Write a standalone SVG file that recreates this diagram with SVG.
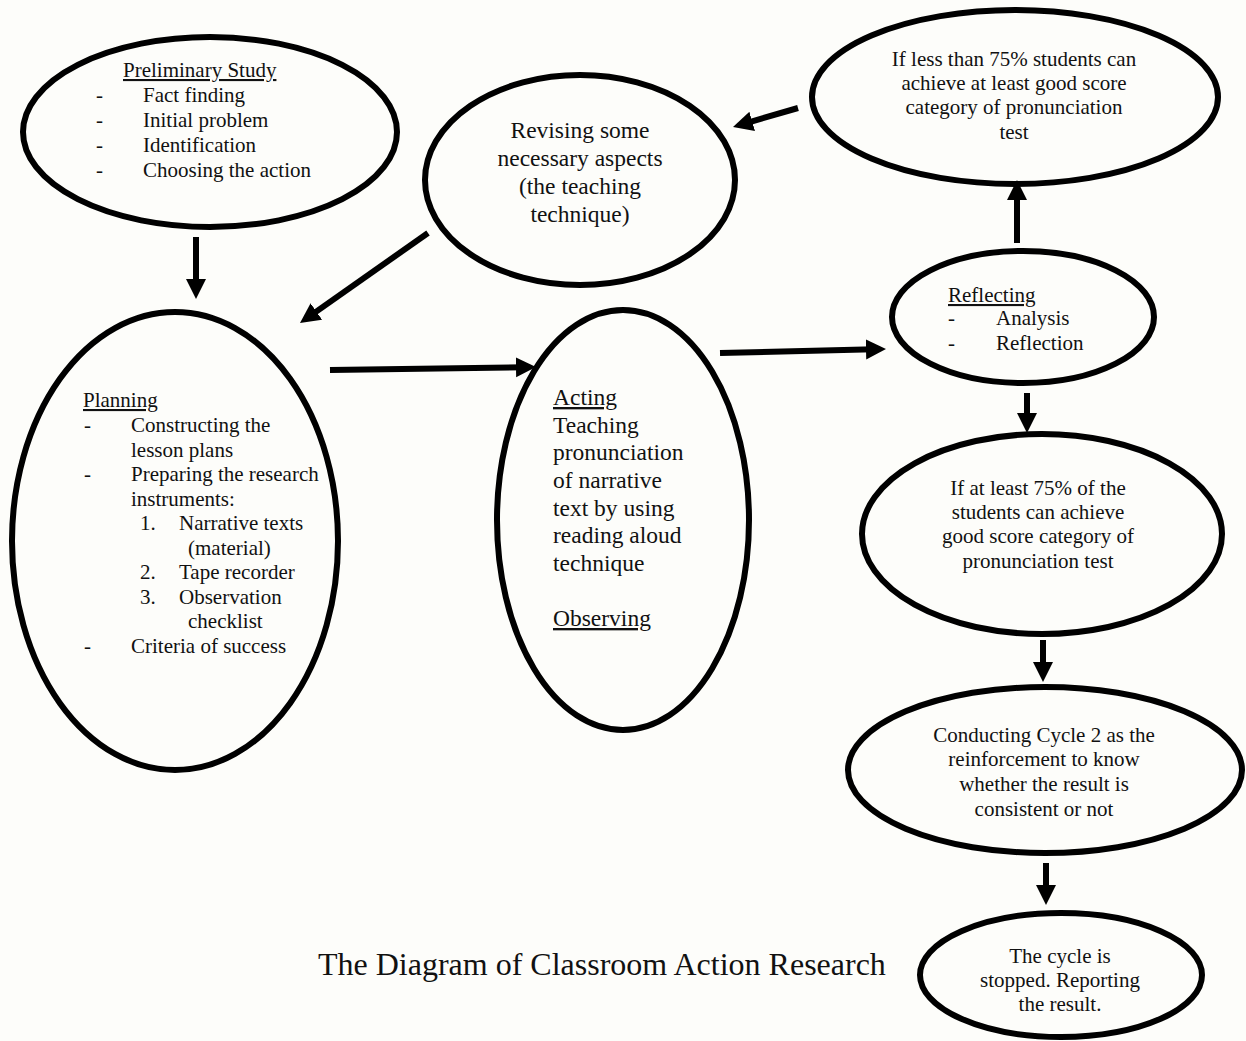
<svg xmlns="http://www.w3.org/2000/svg" width="1246" height="1041" viewBox="0 0 1246 1041">
<defs>
<marker id="ah" markerUnits="userSpaceOnUse" markerWidth="22" markerHeight="22" refX="8" refY="11" orient="auto">
<path d="M0,1 L20,11 L0,21 Z" fill="#000"/>
</marker>
<style>
.node ellipse{fill:none;stroke:#000;stroke-width:6}
text{font-family:"Liberation Serif","Times New Roman",serif;fill:#111}
.t21{font-size:21px}
.t24{font-size:23.5px}
.c{text-anchor:middle}
.u{text-decoration:underline}
#connectors line{stroke:#000;stroke-width:6;marker-end:url(#ah)}
</style>
</defs>
<rect width="1246" height="1041" fill="#fdfdfa"/>

<g id="preliminary" class="node">
<ellipse cx="210" cy="132" rx="187" ry="95"/>
<text class="t21 u" x="123" y="77">Preliminary Study</text>
<text class="t21" x="96" y="102">-</text><text class="t21" x="143" y="102">Fact finding</text>
<text class="t21" x="96" y="127">-</text><text class="t21" x="143" y="127">Initial problem</text>
<text class="t21" x="96" y="152">-</text><text class="t21" x="143" y="152">Identification</text>
<text class="t21" x="96" y="177">-</text><text class="t21" x="143" y="177">Choosing the action</text>
</g>

<g id="revising" class="node">
<ellipse cx="580" cy="180" rx="155" ry="105"/>
<text class="t24 c" x="580" y="138">Revising some</text>
<text class="t24 c" x="580" y="166">necessary aspects</text>
<text class="t24 c" x="580" y="194">(the teaching</text>
<text class="t24 c" x="580" y="222">technique)</text>
</g>

<g id="less75" class="node">
<ellipse cx="1015" cy="97" rx="203" ry="87"/>
<text class="t21 c" x="1014" y="66">If less than 75% students can</text>
<text class="t21 c" x="1014" y="90">achieve at least good score</text>
<text class="t21 c" x="1014" y="114">category of pronunciation</text>
<text class="t21 c" x="1014" y="139">test</text>
</g>

<g id="planning" class="node">
<ellipse cx="175" cy="541" rx="163" ry="229"/>
<text class="t21 u" x="83" y="407">Planning</text>
<text class="t21" x="84" y="432">-</text><text class="t21" x="131" y="432">Constructing the</text>
<text class="t21" x="131" y="457">lesson plans</text>
<text class="t21" x="84" y="481">-</text><text class="t21" x="131" y="481">Preparing the research</text>
<text class="t21" x="131" y="506">instruments:</text>
<text class="t21" x="140" y="530">1.</text><text class="t21" x="179" y="530">Narrative texts</text>
<text class="t21" x="188" y="555">(material)</text>
<text class="t21" x="140" y="579">2.</text><text class="t21" x="179" y="579">Tape recorder</text>
<text class="t21" x="140" y="604">3.</text><text class="t21" x="179" y="604">Observation</text>
<text class="t21" x="188" y="628">checklist</text>
<text class="t21" x="84" y="653">-</text><text class="t21" x="131" y="653">Criteria of success</text>
</g>

<g id="acting" class="node">
<ellipse cx="623" cy="520" rx="126" ry="210"/>
<text class="t24 u" x="553" y="405">Acting</text>
<text class="t24" x="553" y="433">Teaching</text>
<text class="t24" x="553" y="460">pronunciation</text>
<text class="t24" x="553" y="488">of narrative</text>
<text class="t24" x="553" y="516">text by using</text>
<text class="t24" x="553" y="543">reading aloud</text>
<text class="t24" x="553" y="571">technique</text>
<text class="t24 u" x="553" y="626">Observing</text>
</g>

<g id="reflecting" class="node">
<ellipse cx="1023" cy="317" rx="131" ry="66"/>
<text class="t21 u" x="948" y="302">Reflecting</text>
<text class="t21" x="948" y="325">-</text><text class="t21" x="996" y="325">Analysis</text>
<text class="t21" x="948" y="350">-</text><text class="t21" x="996" y="350">Reflection</text>
</g>

<g id="atleast75" class="node">
<ellipse cx="1042" cy="534" rx="180" ry="100"/>
<text class="t21 c" x="1038" y="495">If at least 75% of the</text>
<text class="t21 c" x="1038" y="519">students can achieve</text>
<text class="t21 c" x="1038" y="543">good score category of</text>
<text class="t21 c" x="1038" y="568">pronunciation test</text>
</g>

<g id="cycle2" class="node">
<ellipse cx="1045" cy="770" rx="197" ry="83"/>
<text class="t21 c" x="1044" y="742">Conducting Cycle 2 as the</text>
<text class="t21 c" x="1044" y="766">reinforcement to know</text>
<text class="t21 c" x="1044" y="791">whether the result is</text>
<text class="t21 c" x="1044" y="816">consistent or not</text>
</g>

<g id="stopped" class="node">
<ellipse cx="1061" cy="975" rx="141" ry="62"/>
<text class="t21 c" x="1060" y="963">The cycle is</text>
<text class="t21 c" x="1060" y="987">stopped. Reporting</text>
<text class="t21 c" x="1060" y="1011">the result.</text>
</g>

<g id="connectors">
<line x1="196" y1="237" x2="196" y2="287"/>
<line x1="428" y1="233" x2="309.8" y2="316.1"/>
<line x1="798" y1="108" x2="744.5" y2="123.6"/>
<line x1="330" y1="370" x2="524" y2="367.2"/>
<line x1="720" y1="353" x2="874" y2="349.3"/>
<line x1="1017" y1="243" x2="1017" y2="192"/>
<line x1="1027" y1="393" x2="1027" y2="421"/>
<line x1="1043" y1="640" x2="1043" y2="670"/>
<line x1="1046" y1="863" x2="1046" y2="893"/>
</g>

<text id="title" x="318" y="975" style="font-size:32px">The Diagram of Classroom Action Research</text>
</svg>
